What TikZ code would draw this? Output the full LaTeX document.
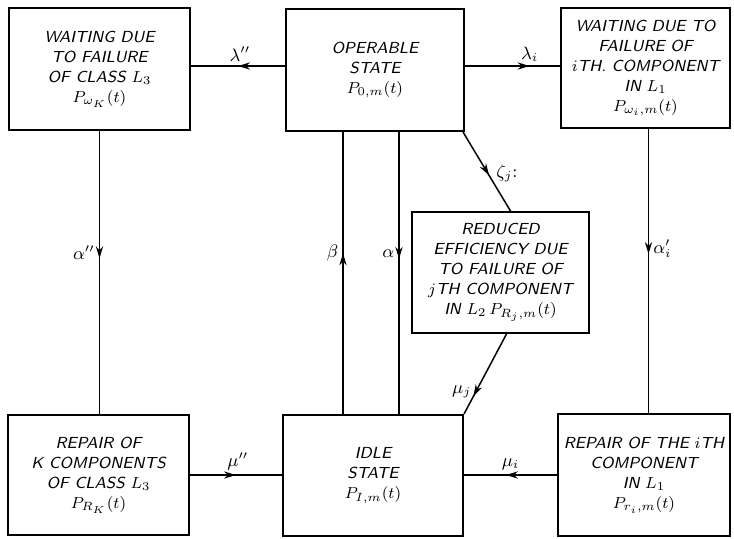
\documentclass[tikz,border=0pt]{standalone}
\usepackage{amsmath}
\usetikzlibrary{arrows.meta,decorations.markings,positioning}

\tikzset{
  statebox/.style={draw, line width=1pt, inner sep=2pt, align=center,
    font=\fontsize{8}{10}\selectfont\sffamily\itshape},
  flowline/.style={line width=0.75pt, postaction={decorate},
    decoration={markings, mark=at position #1 with {\arrow{Stealth[length=6pt,width=3.6pt]}}}},
  flowline/.default=0.5,
  rate/.style={font=\small, inner sep=2pt}
}

\begin{document}
\begin{tikzpicture}[x=0.5pt, y=-0.5pt]
  \useasboundingbox (0,0) rectangle (734,538);
  % top row of states
  \node[statebox, minimum width=90.5pt, minimum height=61pt] (wk) at (99.5,69)
    {WAITING DUE\\TO FAILURE\\OF CLASS $L_3$\\$P_{\omega_K}(t)$};
  \node[statebox, minimum width=89pt, minimum height=61pt] (op) at (375,70)
    {OPERABLE\\STATE\\$P_{0,m}(t)$};
  \node[statebox, minimum width=84.5pt, minimum height=60pt] (wi) at (645.5,68)
    {WAITING DUE TO\\FAILURE OF\\$i$TH. COMPONENT\\IN $L_1$\\$P_{\omega_i,m}(t)$};
  % middle state
  \node[statebox, minimum width=88.5pt, minimum height=60.5pt] (red) at (500.5,272.5)
    {REDUCED\\EFFICIENCY DUE\\TO FAILURE OF\\$j$TH COMPONENT\\IN $L_2\,P_{R_j,m}(t)$};
  % bottom row of states
  \node[statebox, minimum width=90.5pt, minimum height=60pt] (rk) at (98.5,475)
    {REPAIR OF\\K COMPONENTS\\OF CLASS $L_3$\\$P_{R_K}(t)$};
  \node[statebox, minimum width=90pt, minimum height=60.5pt] (idle) at (373,475.5)
    {IDLE\\STATE\\$P_{I,m}(t)$};
  \node[statebox, minimum width=86pt, minimum height=61pt] (ri) at (644,475)
    {REPAIR OF THE $i$TH\\COMPONENT\\IN $L_1$\\$P_{r_i,m}(t)$};

  % horizontal transitions
  \draw[flowline=0.5] ([yshift=2pt]op.west) -- node[rate, above, pos=0.48] {$\lambda''$}
    ([yshift=2pt]op.west -| wk.east);
  \draw[flowline=0.68] ([yshift=2pt]op.east) -- node[rate, above, pos=0.68] {$\lambda_i$}
    ([yshift=2pt]op.east -| wi.west);
  \draw[flowline=0.5] (rk.east) -- node[rate, above, pos=0.52] {$\mu''$} (rk.east -| idle.west);
  \draw[flowline=0.55] (ri.west) -- node[rate, above, pos=0.5] {$\mu_i$} (ri.west -| idle.east);

  % vertical transitions
  \draw[flowline=0.45] (wk.south) -- node[rate, left, pos=0.43] {$\alpha''$} (wk.south |- rk.north);
  \draw[flowline=0.57] ([xshift=-15pt]idle.north) -- node[rate, left, pos=0.57] {$\beta$}
    ([xshift=-15pt]idle.north |- op.south);
  \draw[flowline=0.45] ([xshift=12pt]op.south) -- node[rate, left, pos=0.43] {$\alpha$}
    ([xshift=12pt]op.south |- idle.north);
  \draw[flowline=0.44] ([xshift=1.5pt]wi.south) -- node[rate, right, pos=0.42] {$\alpha'_i$}
    ([xshift=1.5pt]wi.south |- ri.north);

  % reduced efficiency transitions
  \draw[flowline=0.55] ([xshift=-1pt]op.south east) -- node[rate, right, pos=0.52, xshift=2pt] {$\zeta_j$:}
    ([xshift=5pt]red.north);
  \draw[flowline=0.78] ([xshift=3pt]red.south) -- node[rate, left, pos=0.72] {$\mu_j$}
    (idle.north east);
\end{tikzpicture}
\end{document}
